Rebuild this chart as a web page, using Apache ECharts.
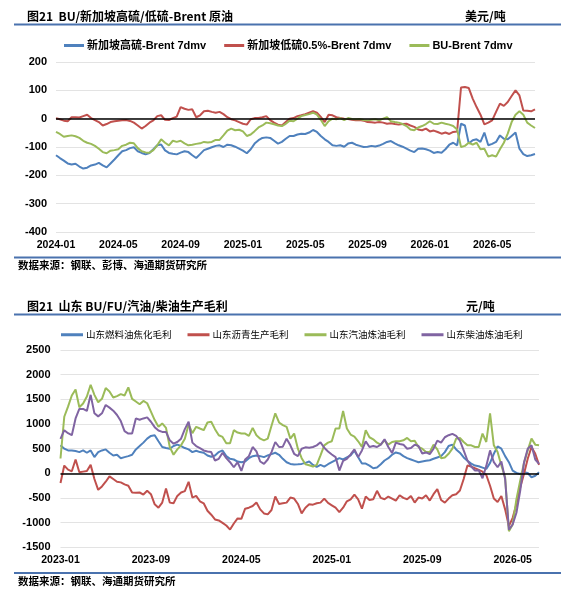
<!DOCTYPE html>
<html>
<head>
<meta charset="utf-8"/>
<title>BU/新加坡高硫/低硫-Brent 与 山东生产毛利</title>
<script src="https://cdn.jsdelivr.net/npm/echarts@6/dist/echarts.min.js"></script>
<style>
    html, body { margin: 0; padding: 0; background: #fff; }
    #chart { width: 561px; height: 592px; }
</style>
</head>
<body>
<div id="chart"></div>
<script>
    // 图1：周度，x 为 2024-01 起的月数（每周 0.25 月）
    var hsfoBrent = [
        -129,-139,-148,-158,-162,-159,-169,-176,-173,-165,-162,-156,-165,-172,-158,-144,-129,-115,-111,-104,-101,-115,-121,-126,-121,-108,-94,-91,-112,-121,-124,-126,-120,-115,-118,-129,-139,-125,-111,
        -106,-101,-96,-94,-100,-92,-94,-99,-106,-113,-122,-108,-88,-76,-68,-66,-68,-78,-88,-82,-71,-61,-61,-56,-53,-54,-49,-40,-47,-61,-73,-82,-94,-96,-94,-99,-88,-85,-92,
        -96,-100,-99,-96,-98,-95,-89,-82,-79,-87,-94,-99,-106,-113,-118,-106,-105,-108,-113,-121,-118,
        -120,-108,-92,-85,-94,-18,-24,-88,-76,-73,-82,-49,-94,-89,-82,-59,-71,-73,-61,-49,-106,-125,-132,-129,-125
    ];
    var lsfoBrent = [
        2,-2,-7,-9,5,5,4,9,14,2,-5,-12,-24,-19,-12,-9,-7,-6,-5,-8,-14,-24,-35,-26,-14,-6,9,12,-4,-5,2,7,41,35,31,33,5,12,26,
        28,24,21,24,16,5,-2,-6,-12,-18,-21,-2,2,2,5,9,-5,-14,-21,-24,-12,0,2,9,12,16,21,26,21,6,-12,14,12,5,2,0,-1,-4,-6,
        -5,-7,-12,-13,-14,-12,-14,-18,-16,-19,-21,-19,-18,-24,-29,-38,-41,-35,-45,-42,-47,
        -53,-49,-54,-47,-45,110,112,108,71,41,14,-20,-14,-6,24,53,45,59,80,100,82,29,28,26,33
    ];
    var buBrent = [
        -47,-54,-64,-61,-59,-62,-68,-78,-85,-89,-96,-106,-118,-122,-113,-111,-108,-96,-92,-85,-87,-104,-115,-119,-120,-111,-94,-73,-85,-94,-78,-82,-78,-87,-94,-92,-89,-87,-82,
        -84,-82,-75,-75,-59,-42,-35,-41,-39,-45,-61,-56,-44,-31,-24,-14,-16,-20,-24,-26,-18,-7,-9,0,9,13,16,21,14,-4,-26,-9,0,-2,2,-5,2,-1,-2,
        -1,-5,-6,-4,-2,-6,0,5,-9,-12,-14,-19,-26,-38,-41,-31,-26,-19,-9,-18,-19,
        -14,-18,-21,-26,-38,-100,-96,-85,-92,-85,-108,-106,-134,-129,-134,-108,-85,-53,-12,14,26,14,-14,-24,-33
    ];
    var step1 = 0.25;

    // 图2：x 为 2023-01 起的月数（每 1/3 月一个点）
    var fuelCoking = [
        567,499,464,464,451,430,464,417,464,330,430,464,485,417,362,376,307,328,348,376,485,553,622,703,758,772,649,533,512,499,553,581,553,512,485,430,458,430,417,362,335,362,430,464,348,294,280,239,225,239,307,348,362,348,328,362,389,417,376,294,225,191,
        178,184,191,212,239,171,130,171,137,184,225,266,307,280,321,362,458,328,198,198,157,102,116,184,260,307,376,423,403,348,307,280,253,225,239,253,266,294,321,348,430,553,581,485,417,321,253,198,157,143,116,89,212,396,546,499,348,225,55,7,-14,20,7,-80,-50,20
    ];
    var asphalt = [
        -198,157,75,41,280,20,34,48,171,-116,-335,-266,-171,-61,-116,-171,-184,-225,-253,-389,-396,-389,-430,-355,-423,-628,-697,-594,-307,-594,-608,-458,-389,-362,-171,-492,-458,-567,-608,-758,-840,-936,-956,-1004,-1059,-1141,-1018,-915,-922,-717,-697,-663,-594,-731,-813,-833,-744,-471,-622,-608,-594,-492,
        -512,-622,-813,-697,-628,-635,-608,-594,-512,-601,-649,-697,-785,-697,-567,-526,-430,-526,-717,-471,-540,-526,-355,-499,-526,-471,-512,-553,-444,-499,-526,-458,-594,-492,-512,-444,-553,-423,-321,-540,-594,-512,-444,-423,-348,-116,157,137,102,68,34,-34,-253,-512,-581,-458,-731,-1072,-902,-628,-287,-14,294,533,396,171
    ];
    var gasoline = [
        300,1147,1352,1578,1700,1340,1414,1557,1796,1591,1441,1510,1728,1660,1537,1564,1605,1578,1742,1510,1455,1400,1468,1420,1250,1079,943,1011,922,533,376,485,567,703,990,813,943,908,874,1031,1045,895,772,738,608,608,874,826,806,806,758,922,772,703,669,703,963,1216,1031,977,943,703,
        806,499,307,184,164,137,171,362,567,622,649,908,908,1264,908,785,745,649,533,874,731,690,622,581,669,581,635,649,649,669,717,649,662,533,499,430,430,581,485,307,321,396,499,703,717,635,567,567,533,533,806,635,1216,567,430,157,-82,-1175,-1038,-526,-150,212,464,703,581,567
    ];
    var diesel = [
        700,874,813,772,1113,1305,1305,1264,1591,1216,1154,1216,1386,1332,1270,1182,1059,854,806,806,1113,1086,1113,1134,1045,936,867,840,840,669,601,635,703,895,1045,622,553,512,464,444,430,260,294,417,307,225,123,225,48,280,348,533,444,239,191,280,430,635,533,540,703,567,
        396,348,499,526,519,533,567,628,519,444,382,328,55,253,294,382,485,328,464,649,533,553,533,581,690,533,410,622,594,581,499,512,581,553,403,423,389,499,662,622,731,772,799,758,662,464,260,137,55,61,-100,150,464,225,123,239,-116,-1141,-1038,-800,-355,212,499,567,280,191
    ];
    var step2 = 1 / 3;

    var names1 = ['新加坡高硫-Brent 7dmv', '新加坡低硫0.5%-Brent 7dmv', 'BU-Brent 7dmv'];
    var names2 = ['山东燃料油焦化毛利', '山东沥青生产毛利', '山东汽油炼油毛利', '山东柴油炼油毛利'];
    var colors = { blue: '#4f81bd', red: '#c0504d', green: '#9bbb59', purple: '#8064a2' };

    function pairs(arr, step) {
        return arr.map(function (v, i) { return [i * step, v]; });
    }

    function monthLabel(startYear) {
        return function (v) {
            var m = Math.round(v);
            var y = startYear + Math.floor(m / 12);
            var mm = (m % 12) + 1;
            return y + '-' + (mm < 10 ? '0' + mm : mm);
        };
    }

    var zeroLine = {
        silent: true,
        symbol: 'none',
        label: { show: false },
        lineStyle: { color: '#000', width: 1.5, type: 'solid' },
        data: [{ yAxis: 0 }]
    };

    function line(name, data, color, grid, extra) {
        var s = {
            name: name,
            type: 'line',
            xAxisIndex: grid,
            yAxisIndex: grid,
            data: data,
            showSymbol: false,
            symbol: 'none',
            lineStyle: { color: color, width: 2 },
            itemStyle: { color: color }
        };
        if (extra) s.markLine = zeroLine;
        return s;
    }

    var tickFont = { fontFamily: 'Liberation Sans', fontWeight: 'bold', color: '#000' };
    var ruleColor = '#4a72ae';

    var chart = echarts.init(document.getElementById('chart'));
    chart.setOption({
        animation: false,
        backgroundColor: '#fff',
        legend: [
            {
                left: 59, top: 35,
                itemWidth: 20, itemHeight: 3, itemGap: 18,
                icon: 'rect',
                textStyle: { fontFamily: 'Liberation Sans, Noto Sans CJK SC', fontWeight: 'bold', fontSize: 11, color: '#000', padding: [0, 0, 0, -2] },
                data: names1
            },
            {
                left: 56, top: 325,
                itemWidth: 22, itemHeight: 3, itemGap: 16,
                icon: 'rect',
                textStyle: { fontFamily: 'Noto Sans CJK SC', fontSize: 9.5, color: '#000', padding: [0, 0, 0, -2] },
                data: names2
            }
        ],
        grid: [
            { left: 56, top: 62, width: 479, height: 170 },
            { left: 60.5, top: 350, width: 478.5, height: 197.3 }
        ],
        xAxis: [
            {
                type: 'value', gridIndex: 0, min: 0, max: 30.75, interval: 4,
                axisLine: { show: false }, axisTick: { show: false }, splitLine: { show: false },
                axisLabel: Object.assign({ margin: 8, fontSize: 10.5, showMaxLabel: false, formatter: monthLabel(2024) }, tickFont)
            },
            {
                type: 'value', gridIndex: 1, min: 0, max: 42.33, interval: 8,
                axisLine: { show: false }, axisTick: { show: false }, splitLine: { show: false },
                axisLabel: Object.assign({ margin: 7, fontSize: 10.5, showMaxLabel: false, formatter: monthLabel(2023) }, tickFont)
            }
        ],
        yAxis: [
            {
                type: 'value', gridIndex: 0, min: -400, max: 200, interval: 100,
                axisLine: { show: false }, axisTick: { show: false },
                splitLine: { lineStyle: { color: '#e3e3e3', width: 1 } },
                axisLabel: Object.assign({ margin: 9, fontSize: 11, formatter: function (v) { return String(v); } }, tickFont)
            },
            {
                type: 'value', gridIndex: 1, min: -1500, max: 2500, interval: 500,
                axisLine: { show: false }, axisTick: { show: false },
                splitLine: { lineStyle: { color: '#e3e3e3', width: 1 } },
                axisLabel: Object.assign({ margin: 10, fontSize: 11, formatter: function (v) { return String(v); } }, tickFont)
            }
        ],
        series: [
            line(names1[0], pairs(hsfoBrent, step1), colors.blue, 0, true),
            line(names1[1], pairs(lsfoBrent, step1), colors.red, 0),
            line(names1[2], pairs(buBrent, step1), colors.green, 0),
            line(names2[0], pairs(fuelCoking, step2), colors.blue, 1, true),
            line(names2[1], pairs(asphalt, step2), colors.red, 1),
            line(names2[2], pairs(gasoline, step2), colors.green, 1),
            line(names2[3], pairs(diesel, step2), colors.purple, 1)
        ],
        graphic: [
            { type: 'text', left: 27, top: 10, style: { text: '图21  BU/新加坡高硫/低硫-Brent 原油', font: 'bold 12px "Noto Sans CJK SC"', fill: '#000' } },
            { type: 'text', left: 465, top: 10, style: { text: '美元/吨', font: 'bold 12px "Noto Sans CJK SC"', fill: '#000' } },
            { type: 'rect', shape: { x: 14, y: 23.5, width: 547, height: 2 }, style: { fill: ruleColor } },
            { type: 'rect', shape: { x: 14, y: 256.5, width: 547, height: 2 }, style: { fill: ruleColor } },
            { type: 'text', left: 18, top: 260, style: { text: '数据来源：钢联、彭博、海通期货研究所', font: 'bold 10.5px "Noto Sans CJK SC"', fill: '#000' } },

            { type: 'text', left: 27, top: 300, style: { text: '图21  山东 BU/FU/汽油/柴油生产毛利', font: 'bold 12px "Noto Sans CJK SC"', fill: '#000' } },
            { type: 'text', left: 466, top: 300, style: { text: '元/吨', font: 'bold 12px "Noto Sans CJK SC"', fill: '#000' } },
            { type: 'rect', shape: { x: 14, y: 313.5, width: 547, height: 2 }, style: { fill: ruleColor } },
            { type: 'rect', shape: { x: 14, y: 572, width: 547, height: 2 }, style: { fill: ruleColor } },
            { type: 'text', left: 18, top: 576, style: { text: '数据来源：钢联、海通期货研究所', font: 'bold 10.5px "Noto Sans CJK SC"', fill: '#000' } }
        ]
    });
</script>
</body>
</html>
